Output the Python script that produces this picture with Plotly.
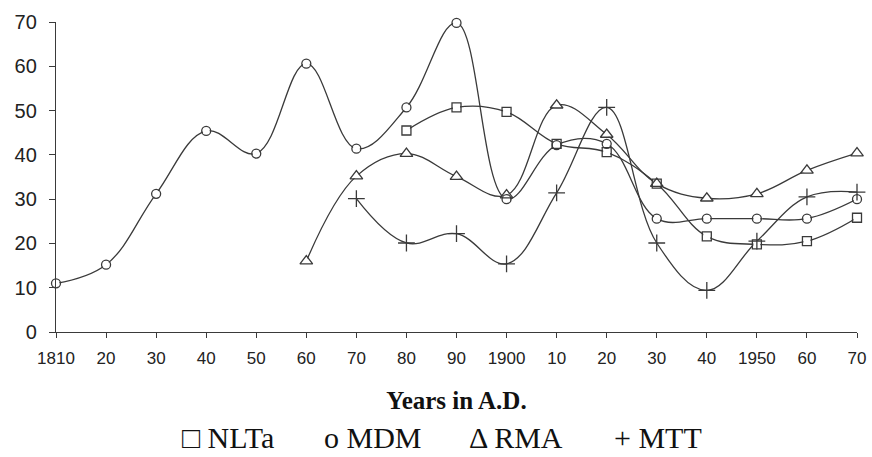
import plotly.graph_objects as go

years = [1810, 1820, 1830, 1840, 1850, 1860, 1870, 1880, 1890, 1900,
         1910, 1920, 1930, 1940, 1950, 1960, 1970]

nlta = [None, None, None, None, None, None, None, 45.5, 50.7, 49.7,
        42.5, 40.6, 33.5, 21.6, 19.8, 20.5, 25.8]
mdm = [11, 15.2, 31.2, 45.4, 40.3, 60.6, 41.4, 50.7, 69.8, 30,
       42.2, 42.5, 25.6, 25.6, 25.6, 25.6, 30]
rma = [None, None, None, None, None, 16.0, 35.2, 40.3, 35.1, 30.9,
       51.2, 44.6, 33.5, 30.2, 31.2, 36.5, 40.4]
mtt = [None, None, None, None, None, None, 30.1, 20.1, 22.2, 15.4,
       31.4, 50.7, 20.1, 9.4, 20.5, 30.5, 31.6]

tick_vals = years
tick_text = ["1810", "20", "30", "40", "50", "60", "70", "80", "90", "1900",
             "10", "20", "30", "40", "1950", "60", "70"]
y_ticks = [0, 10, 20, 30, 40, 50, 60, 70]

legend_items = ["\u25a1 NLTa", "o MDM", "\u0394 RMA", "+ MTT"]
legend_x = [1834.8, 1863.1, 1892.1, 1921.0]

LINE = "#3a3a3a"


def trim(xs, ys):
    px, py = [], []
    for a, b in zip(xs, ys):
        if b is not None:
            px.append(a)
            py.append(b)
    return px, py


fig = go.Figure()

series = [
    ("NLTa", nlta, "square-open", 9),
    ("MDM", mdm, "circle-open", 9),
    ("RMA", rma, "triangle-up-open", 11),
    ("MTT", mtt, "cross-thin-open", 12),
]
for name, vals, sym, sz in series:
    xs, ys = trim(years, vals)
    fig.add_trace(go.Scatter(
        x=xs, y=ys, name=name, mode="lines",
        line=dict(color=LINE, width=1.3, shape="spline", smoothing=1.1),
        cliponaxis=False, hoverinfo="skip", showlegend=False,
    ))
# white fill behind open markers
for name, vals, sym, sz in series[:3]:
    xs, ys = trim(years, vals)
    fig.add_trace(go.Scatter(
        x=xs, y=ys, mode="markers",
        marker=dict(symbol=sym.replace("-open", ""), size=sz - 2, color="white",
                    line=dict(width=0)),
        cliponaxis=False, showlegend=False, hoverinfo="skip",
    ))
for name, vals, sym, sz in series:
    xs, ys = trim(years, vals)
    fig.add_trace(go.Scatter(
        x=xs, y=ys, name=name, mode="markers",
        marker=dict(symbol=sym, size=sz, color=LINE,
                    line=dict(color=LINE, width=1.3)),
        cliponaxis=False, showlegend=False,
    ))

fig.update_layout(
    width=872, height=457,
    margin=dict(l=56, r=15, t=22, b=125, pad=0),
    paper_bgcolor="white", plot_bgcolor="white",
    font=dict(family="Liberation Sans, Arial, sans-serif", color="#222"),
    xaxis=dict(
        range=[1810, 1970], tickvals=tick_vals, ticktext=tick_text,
        automargin=False,
        showgrid=False, zeroline=False, showline=True, linecolor=LINE,
        linewidth=1.3, ticks="outside", ticklen=5, tickcolor=LINE,
        tickfont=dict(size=17, color="#222"),
        ticklabelstandoff=5,
        title=dict(text="<b>Years in A.D.</b>",
                   font=dict(family="Liberation Serif, Times New Roman, serif",
                             size=25, color="#111"),
                   standoff=24),
    ),
    yaxis=dict(
        range=[0, 70], tickvals=y_ticks, automargin=False,
        showgrid=False, zeroline=False, showline=True, linecolor=LINE,
        linewidth=1.3, ticks="outside", ticklen=6, tickcolor=LINE,
        tickfont=dict(size=20, color="#222"),
        ticklabelstandoff=8,
    ),
)

for txt, lx in zip(legend_items, legend_x):
    fig.add_annotation(
        x=lx, y=-0.34, xref="x", yref="paper", text=txt, showarrow=False,
        xanchor="left", yanchor="middle",
        font=dict(family="Liberation Serif, Times New Roman, serif", size=30,
                  color="#111"),
    )

fig.write_html("out.html")
